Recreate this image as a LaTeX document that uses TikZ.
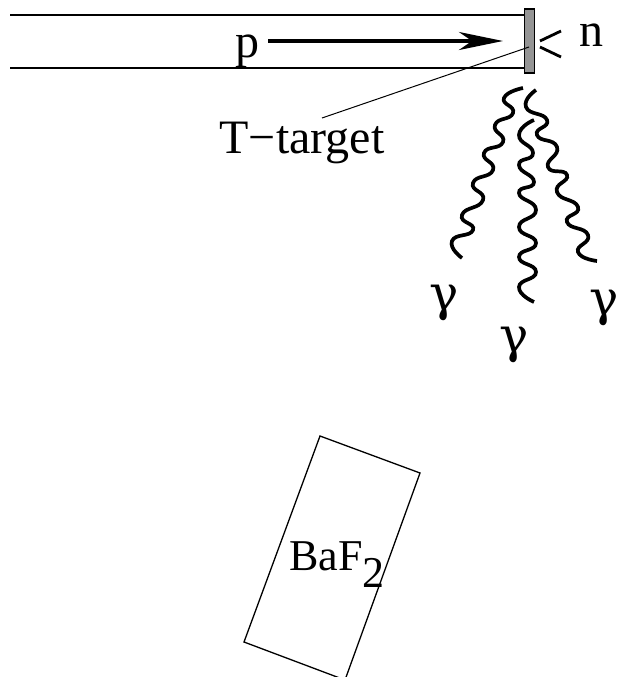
\documentclass[tikz,border=0pt]{standalone}
\usepackage{fontspec}
\setmainfont{Liberation Serif}
\newfontfamily\gamfont{DejaVu Serif}
\usetikzlibrary{arrows.meta}
\tikzset{
  lbl/.style={inner sep=0pt,font=\fontsize{48}{50}\selectfont},
  bafl/.style={inner sep=0pt,font=\fontsize{44}{46}\selectfont},
  wig/.style={line width=3.7pt,line cap=butt,smooth,tension=1},
  gam/.style={inner sep=0pt,font=\fontsize{49}{50}\gamfont}
}
\begin{document}
\begin{tikzpicture}[x=1pt,y=-1pt]
\useasboundingbox (0,0) rectangle (619,677);
\begin{scope}
\clip (0,0) rectangle (619,677);
\coordinate (pt1) at (10,15);
\coordinate (pt2) at (10,68);
\node[draw=black,line width=1.2pt,fill=black!42,minimum width=10pt,minimum height=64pt,inner sep=0pt] (target) at (529.5,41) {};
\draw[line width=1.3pt] (pt1) -- (pt1 -| target.west);
\draw[line width=1.3pt] (pt2) -- (pt2 -| target.west);
\node[lbl,anchor=base] (p) at (247,57) {p};
\coordinate (arrS) at (268,41);
\coordinate (arrE) at (503,41);
\draw[line width=3.6pt,-{Stealth[length=44pt,width=18pt,inset=13pt]}] (arrS) -- (arrE);
\node[lbl,anchor=base] (n) at (591,47) {n};
\coordinate (n1a) at (540,41); \coordinate (n1b) at (561,31);
\coordinate (n2a) at (540,47); \coordinate (n2b) at (561,57);
\draw[line width=2.8pt] (n1a) -- (n1b);
\draw[line width=2.8pt] (n2a) -- (n2b);
\node[lbl,anchor=base] (tt) at (302,153) {T−target};
\coordinate (leadA) at (529,47);
\coordinate (leadB) at (322,118);
\draw[line width=1pt] (leadA) -- (leadB);
\draw[wig] plot coordinates {(523,88) (504,98) (513,113) (495,125) (503,142) (484,153) (493,170) (473,183) (483,200) (462,215) (473,230) (452,241) (462,258)};
\draw[wig] plot coordinates {(534,120) (519,135) (533,153) (519,165) (534,182) (519,193) (536,210) (519,227) (536,243) (519,257) (536,272) (519,287) (534,302)};
\draw[wig] plot coordinates {(536,90) (526,107) (547,120) (537,135) (557,147) (548,167) (567,175) (557,192) (578,207) (567,222) (588,235) (578,252) (597,261)};
\node[gam] (g1) at (444,303) {γ};
\node[gam] (g2) at (514,345) {γ};
\node[gam,anchor=east] (g3) at (619,308) {γ};
\coordinate (c1) at (320,436); \coordinate (c2) at (420,473);
\coordinate (c3) at (345,680); \coordinate (c4) at (244,642);
\draw[line width=1.3pt] (c1) -- (c2) -- (c3) -- (c4) -- cycle;
\node[bafl,anchor=base west] (baf) at (289,570) {BaF\raisebox{-17pt}{2}};
\end{scope}
\end{tikzpicture}
\end{document}
